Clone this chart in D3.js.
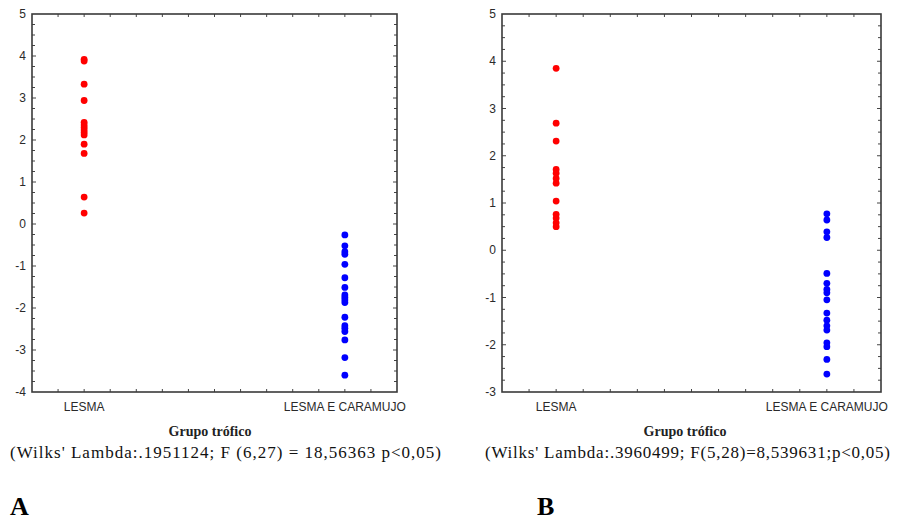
<!DOCTYPE html>
<html>
<head>
<meta charset="utf-8">
<script src="https://cdn.jsdelivr.net/npm/d3@7"></script>
<style>
  html, body { margin: 0; padding: 0; background: #fff; }
  svg { display: block; }
</style>
</head>
<body>
<svg id="chart" width="898" height="522"></svg>
<script>
// Trophic groups on the x axis
const categories = ["LESMA", "LESMA E CARAMUJO"];

// Panel A: canonical scores per individual
const scoresA_lesma = [3.92, 3.88, 3.33, 2.94, 2.42, 2.36, 2.30, 2.24, 2.18, 2.12, 1.90, 1.68, 0.64, 0.26];
const scoresA_caramujo = [-0.26, -0.52, -0.66, -0.72, -0.96, -1.28, -1.51, -1.69, -1.75, -1.81, -1.87,
                          -2.22, -2.42, -2.48, -2.56, -2.76, -3.18, -3.60];

// Panel B: canonical scores per individual
const scoresB_lesma = [3.85, 2.69, 2.31, 1.71, 1.63, 1.52, 1.42, 1.04, 0.76, 0.68, 0.58, 0.50];
const scoresB_caramujo = [0.77, 0.64, 0.39, 0.27, -0.49, -0.70, -0.83, -0.90, -1.05, -1.33, -1.48,
                          -1.60, -1.69, -1.96, -2.04, -2.31, -2.62];

// Axis ranges and tick labels
const yDomainA = [-4, 5];
const yDomainB = [-3, 5];
const yTicksA = [-4, -3, -2, -1, 0, 1, 2, 3, 4, 5];
const yTicksB = [-3, -2, -1, 0, 1, 2, 3, 4, 5];

const xTitle = "Grupo trófico";
const statsA = "(Wilks' Lambda:.1951124; F (6,27) = 18,56363 p<0,05)";
const statsB = "(Wilks' Lambda:.3960499; F(5,28)=8,539631;p<0,05)";
const panelLetters = ["A", "B"];
const seriesColors = ["#ff0000", "#0000ff"];

const svg = d3.select("#chart");

function drawPanel(opt) {
  const g = svg.append("g");
  const { left, right, top, bottom } = opt;

  const x = d3.scalePoint().domain(categories).range([left, right]).padding(0.2);
  const y = d3.scaleLinear().domain(opt.yDomain).range([bottom, top]);

  // minor x ticks: ten per category step
  const step = x.step() / 10;
  const nX = Math.round((right - left) / step);
  const xMinor = d3.range(1, nX).map(i => left + i * step);

  // minor y ticks every quarter unit
  const yMinor = d3.range(opt.yDomain[0] * 4 + 1, opt.yDomain[1] * 4).map(v => v / 4);

  const tickColor = "#444";
  // bottom & top ticks (inward)
  g.selectAll(".xtb").data(xMinor).join("line")
    .attr("x1", d => d).attr("x2", d => d)
    .attr("y1", bottom).attr("y2", bottom - 3)
    .attr("stroke", tickColor).attr("stroke-width", 1);
  g.selectAll(".xtt").data(xMinor).join("line")
    .attr("x1", d => d).attr("x2", d => d)
    .attr("y1", top).attr("y2", top + 3)
    .attr("stroke", tickColor).attr("stroke-width", 1);
  // left & right ticks (inward)
  g.selectAll(".ytl").data(yMinor).join("line")
    .attr("x1", left).attr("x2", d => left + (Number.isInteger(d) ? 4 : 3))
    .attr("y1", d => y(d)).attr("y2", d => y(d))
    .attr("stroke", tickColor).attr("stroke-width", 1);
  g.selectAll(".ytr").data(yMinor).join("line")
    .attr("x1", right).attr("x2", d => right - (Number.isInteger(d) ? 4 : 3))
    .attr("y1", d => y(d)).attr("y2", d => y(d))
    .attr("stroke", tickColor).attr("stroke-width", 1);

  // frame
  g.append("rect")
    .attr("x", left).attr("y", top)
    .attr("width", right - left).attr("height", bottom - top)
    .attr("fill", "none").attr("stroke", "#3a3a3a").attr("stroke-width", 1.6);

  // y tick labels
  g.selectAll(".ylab").data(opt.yTicks).join("text")
    .attr("x", left - 6).attr("y", d => y(d)).attr("dy", "0.35em")
    .attr("text-anchor", "end")
    .attr("font-family", "Arial, 'Liberation Sans', sans-serif")
    .attr("font-size", 12).attr("fill", "#2a2a2a")
    .text(d => d);

  // category labels
  g.selectAll(".xlab").data(categories).join("text")
    .attr("x", d => x(d)).attr("y", bottom + 19)
    .attr("text-anchor", "middle")
    .attr("font-family", "Arial, 'Liberation Sans', sans-serif")
    .attr("font-size", 12).attr("fill", "#2a2a2a")
    .text(d => d);

  // points
  opt.series.forEach((vals, i) => {
    g.selectAll(".pt" + i).data(vals).join("circle")
      .attr("cx", x(categories[i]))
      .attr("cy", d => y(d))
      .attr("r", 3.4)
      .attr("fill", seriesColors[i]);
  });

  // axis title
  g.append("text")
    .attr("x", opt.titleX).attr("y", 436)
    .attr("text-anchor", "middle")
    .attr("font-family", "'Liberation Serif', 'Times New Roman', serif")
    .attr("font-weight", "bold").attr("font-size", 14).attr("fill", "#222")
    .text(xTitle);

  // statistics line
  g.append("text")
    .attr("x", opt.statsX0).attr("y", 458)
    .attr("textLength", opt.statsX1 - opt.statsX0)
    .attr("lengthAdjust", "spacing")
    .attr("font-family", "'Liberation Serif', 'Times New Roman', serif")
    .attr("font-size", 17).attr("fill", "#111")
    .text(opt.stats);

  // panel letter
  g.append("text")
    .attr("x", opt.letterX).attr("y", 515)
    .attr("font-family", "'Liberation Serif', 'Times New Roman', serif")
    .attr("font-weight", "bold").attr("font-size", 26).attr("fill", "#000")
    .text(opt.letter);
}

drawPanel({
  left: 32, right: 397, top: 14, bottom: 392,
  yDomain: yDomainA, yTicks: yTicksA,
  series: [scoresA_lesma, scoresA_caramujo],
  titleX: 210, stats: statsA, statsX0: 10, statsX1: 441,
  letter: panelLetters[0], letterX: 10
});

drawPanel({
  left: 502, right: 881, top: 14, bottom: 392,
  yDomain: yDomainB, yTicks: yTicksB,
  series: [scoresB_lesma, scoresB_caramujo],
  titleX: 685, stats: statsB, statsX0: 485, statsX1: 890,
  letter: panelLetters[1], letterX: 537
});
</script>
</body>
</html>
